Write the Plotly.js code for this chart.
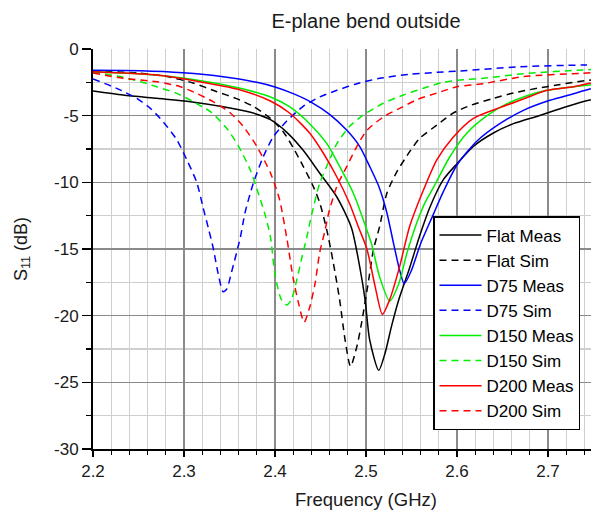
<!DOCTYPE html>
<html>
<head>
<meta charset="utf-8">
<script src="https://cdn.plot.ly/plotly-3.0.1.min.js"></script>
<style>
html,body{margin:0;padding:0;overflow:hidden;background:#fff;}
#chart{width:680px;height:510px;}
</style>
</head>
<body>
<div id="chart"></div>
<script>
// ---- data (frequency in GHz, S11 in dB) ----
const seriesNames = ['Flat Meas','Flat Sim','D75 Meas','D75 Sim','D150 Meas','D150 Sim','D200 Meas','D200 Sim'];

const flatMeasF = [2.200,2.233,2.270,2.307,2.343,2.373,2.395,2.413,2.431,2.449,2.468,2.484,2.493,2.499,2.504,2.514,2.521,2.528,2.536,2.548,2.559,2.570,2.585,2.600,2.618,2.640,2.662,2.690,2.720,2.746,2.775,2.800];
const flatMeasDb = [-3.15,-3.45,-3.70,-3.95,-4.33,-4.75,-5.30,-6.25,-7.60,-9.30,-11.10,-13.40,-16.30,-18.80,-21.80,-24.10,-22.80,-20.80,-18.80,-16.40,-14.00,-11.90,-9.80,-8.60,-7.30,-6.30,-5.60,-5.00,-4.33,-3.83,-3.45,-3.20];

const flatSimF = [2.200,2.250,2.280,2.310,2.336,2.357,2.376,2.395,2.409,2.420,2.431,2.442,2.449,2.457,2.464,2.471,2.477,2.483,2.490,2.495,2.503,2.508,2.515,2.523,2.534,2.548,2.559,2.578,2.596,2.616,2.640,2.662,2.688,2.710,2.732,2.770,2.800];
const flatSimDb = [-1.65,-1.80,-2.05,-2.55,-3.20,-3.70,-4.30,-5.20,-6.20,-7.40,-8.80,-10.30,-11.50,-13.60,-16.00,-18.80,-21.80,-23.80,-22.30,-20.60,-17.30,-15.10,-13.30,-10.80,-9.20,-7.70,-6.70,-5.70,-4.80,-4.20,-3.70,-3.30,-2.95,-2.70,-2.45,-2.15,-1.95];

const d75MeasF = [2.200,2.252,2.299,2.343,2.380,2.400,2.420,2.440,2.460,2.479,2.493,2.504,2.514,2.523,2.530,2.537,2.542,2.550,2.560,2.574,2.585,2.600,2.622,2.647,2.673,2.702,2.728,2.746,2.775,2.800];
const d75MeasDb = [-1.60,-1.63,-1.78,-2.08,-2.50,-2.85,-3.35,-4.00,-4.90,-6.10,-7.30,-8.80,-10.30,-12.30,-14.50,-16.60,-17.60,-16.60,-14.60,-12.40,-10.70,-8.70,-6.90,-5.60,-4.60,-3.85,-3.35,-3.00,-2.60,-2.35];

const d75SimF = [2.200,2.226,2.248,2.263,2.277,2.292,2.303,2.314,2.321,2.327,2.332,2.338,2.343,2.347,2.352,2.362,2.367,2.376,2.387,2.398,2.413,2.431,2.449,2.468,2.490,2.515,2.548,2.578,2.603,2.669,2.738,2.800];
const d75SimDb = [-2.25,-2.95,-3.70,-4.45,-5.45,-6.80,-8.30,-10.00,-11.90,-13.50,-14.90,-17.00,-18.20,-18.00,-16.80,-14.10,-12.30,-10.10,-8.10,-6.60,-5.40,-4.30,-3.60,-3.10,-2.60,-2.20,-1.90,-1.75,-1.65,-1.33,-1.20,-1.15];

const d150MeasF = [2.200,2.270,2.325,2.362,2.395,2.416,2.438,2.457,2.471,2.486,2.497,2.506,2.515,2.526,2.536,2.545,2.556,2.565,2.574,2.592,2.611,2.633,2.655,2.677,2.699,2.728,2.746,2.800];
const d150MeasDb = [-1.70,-1.95,-2.45,-2.95,-3.60,-4.33,-5.60,-7.10,-8.80,-10.80,-12.80,-14.60,-17.10,-18.90,-17.60,-15.30,-13.00,-11.50,-10.40,-8.10,-6.30,-5.00,-4.10,-3.50,-3.10,-2.83,-2.70,-2.45];

const d150SimF = [2.200,2.230,2.252,2.270,2.292,2.310,2.329,2.347,2.360,2.373,2.382,2.389,2.395,2.400,2.407,2.413,2.418,2.424,2.429,2.435,2.440,2.449,2.460,2.468,2.482,2.497,2.519,2.541,2.563,2.585,2.607,2.629,2.673,2.738,2.800];
const d150SimDb = [-1.75,-2.07,-2.45,-2.83,-3.33,-3.95,-4.70,-5.95,-7.30,-9.10,-10.90,-12.40,-14.10,-16.90,-18.80,-19.20,-18.80,-17.30,-15.80,-14.10,-12.50,-10.10,-8.30,-7.10,-5.80,-4.95,-4.07,-3.45,-2.95,-2.50,-2.30,-2.20,-1.85,-1.57,-1.40];

const d200MeasF = [2.200,2.270,2.325,2.362,2.395,2.416,2.438,2.453,2.468,2.482,2.492,2.501,2.510,2.518,2.526,2.537,2.548,2.563,2.578,2.596,2.618,2.647,2.673,2.699,2.728,2.746,2.800];
const d200MeasDb = [-1.70,-1.95,-2.55,-3.07,-3.90,-4.80,-6.30,-7.80,-9.60,-11.60,-13.40,-15.00,-17.80,-19.90,-18.80,-16.30,-13.30,-10.60,-8.30,-6.60,-5.20,-4.40,-3.75,-3.10,-2.83,-2.57,-2.20];

const d200SimF = [2.200,2.233,2.270,2.296,2.314,2.332,2.351,2.365,2.380,2.395,2.405,2.413,2.420,2.426,2.432,2.438,2.444,2.449,2.455,2.459,2.468,2.479,2.490,2.501,2.519,2.537,2.556,2.578,2.600,2.629,2.673,2.738,2.800];
const d200SimDb = [-1.80,-2.20,-2.45,-2.83,-3.33,-3.95,-4.80,-5.80,-7.30,-9.30,-11.30,-14.20,-17.20,-19.10,-20.50,-19.40,-17.60,-15.30,-13.60,-12.30,-10.30,-8.80,-7.30,-6.10,-5.10,-4.45,-3.80,-3.30,-2.83,-2.60,-2.07,-1.82,-1.60];

const yTickVals = [0,-5,-10,-15,-20,-25,-30];
const yTickText = ['0','-5','-10','-15','-20','-25','-30'];
const xTickVals = [2.2,2.3,2.4,2.5,2.6,2.7];
const xTickText = ['2.2','2.3','2.4','2.5','2.6','2.7'];

// ---- build traces ----
const FONT = '"Liberation Sans", Arial, sans-serif';
const xs = [flatMeasF,flatSimF,d75MeasF,d75SimF,d150MeasF,d150SimF,d200MeasF,d200SimF];
const ys = [flatMeasDb,flatSimDb,d75MeasDb,d75SimDb,d150MeasDb,d150SimDb,d200MeasDb,d200SimDb];
const colors = ['#000000','#000000','#0000ff','#0000ff','#00ee00','#00ee00','#ff0000','#ff0000'];
const traces = seriesNames.map((name,i)=>({
  type:'scatter', mode:'lines', name:name,
  x: xs[i], y: ys[i],
  line:{color:colors[i], width:1.5, dash: (i%2===1)?'7px,5px':'solid', shape:'spline', smoothing:0.7}
}));

const layout = {
  width:680, height:510,
  margin:{l:93, r:41, t:49, b:61},
  paper_bgcolor:'#fff', plot_bgcolor:'#fff',
  font:{family:FONT, size:17, color:'#1a1a1a'},
  title:{text:'E-plane bend outside', font:{family:FONT, size:20, color:'#1a1a1a'},
         xref:'paper', x:0.5, xanchor:'center', yref:'container', y:1-21/510, yanchor:'middle'},
  showlegend:true,
  legend:{x:(433-93)/546, y:(449-216)/400, xanchor:'left', yanchor:'top',
          bgcolor:'#ffffff', bordercolor:'#000', borderwidth:1.5, itemwidth:42,
          font:{family:FONT, size:17, color:'#000'}, traceorder:'normal'},
  xaxis:{range:[2.2,2.8], tickmode:'array', tickvals:xTickVals, ticktext:xTickText,
         ticks:'outside', ticklen:6, tickwidth:1.5, tickcolor:'#000',
         showline:true, linecolor:'#000', linewidth:2, mirror:false, zeroline:false,
         showgrid:true, gridcolor:'#8a8a8a', gridwidth:1.3,
         minor:{dtick:0.02, tick0:2.2, ticks:'outside', ticklen:4, tickwidth:1.2, tickcolor:'#000', showgrid:true, gridcolor:'#cfcfcf', gridwidth:1.3},
         tickfont:{family:FONT, size:17, color:'#1a1a1a'},
         title:{text:'Frequency (GHz)', font:{family:FONT, size:18.5, color:'#1a1a1a'}, standoff:17}},
  yaxis:{range:[-30,0], tickmode:'array', tickvals:yTickVals, ticktext:yTickText,
         ticks:'outside', ticklen:9, tickwidth:1.5, tickcolor:'#000',
         showline:true, linecolor:'#000', linewidth:2, mirror:false, zeroline:false,
         showgrid:true, gridcolor:'#8a8a8a', gridwidth:1.3,
         minor:{dtick:2.5, tick0:0, ticks:'outside', ticklen:5, tickwidth:1.2, tickcolor:'#000', showgrid:true, gridcolor:'#cfcfcf', gridwidth:1.3},
         tickfont:{family:FONT, size:17, color:'#1a1a1a'},
         title:{text:'S<sub>11</sub> (dB)', font:{family:FONT, size:18, color:'#1a1a1a'}, standoff:22}}
};

Plotly.newPlot('chart', traces, layout, {displayModeBar:false, staticPlot:true});
</script>
</body>
</html>
